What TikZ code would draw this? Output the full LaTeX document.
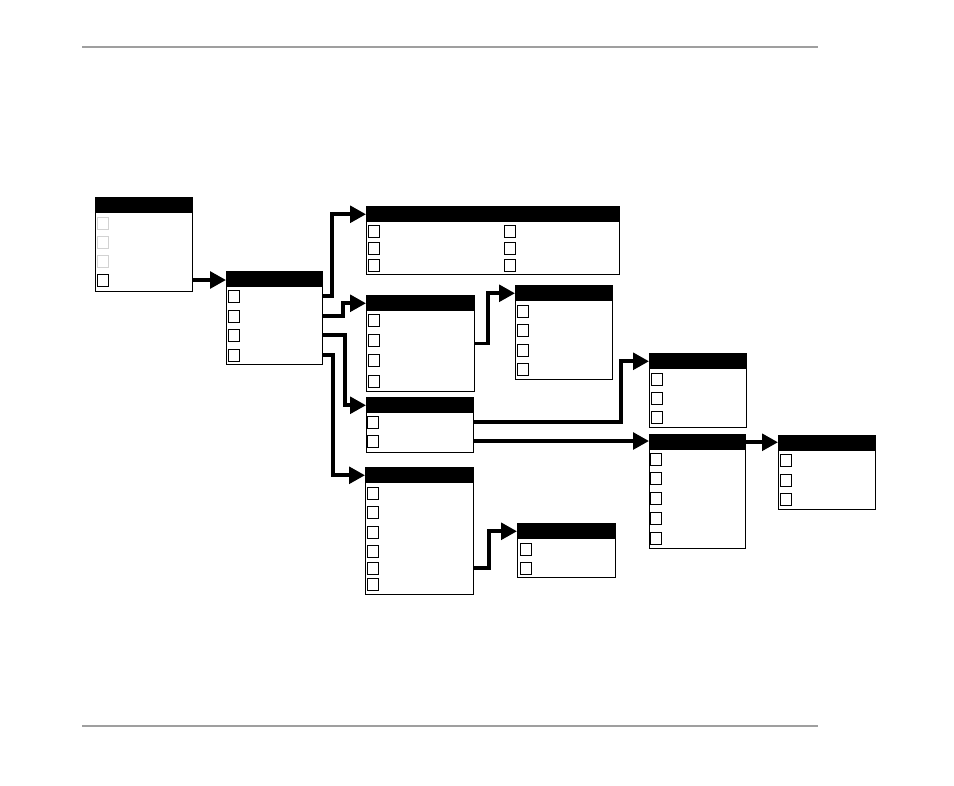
\documentclass[tikz,border=0pt]{standalone}
\usetikzlibrary{positioning, arrows.meta}

\begin{document}
\begin{tikzpicture}[
    x=0.75pt, y=-0.75pt,
    panel/.style 2 args={draw, line width=0.9pt, rectangle, anchor=north west,
                         inner sep=0pt, minimum width=#1*0.75pt, minimum height=#2*0.75pt},
    bar/.style={fill=black, rectangle, anchor=north west, inner sep=0pt,
                minimum width=#1*0.75pt, minimum height=12pt},
    tick/.style={draw, line width=0.7pt, rectangle, inner sep=0pt,
                 minimum width=8pt, minimum height=9pt},
    dim/.style={tick, draw=gray!35},
    link/.style={draw, line width=2.8pt, -{Triangle[length=12pt, width=12.5pt]}},
    rule/.style={draw=gray!75, line width=1.5pt},
  ]
\useasboundingbox (0,0) rectangle (954,786);

% page rules
\draw[rule] (82,47) -- (818,47);
\draw[rule] (82,726) -- (818,726);

% panels
\node[panel={97}{94}]  (start) at (95,197) {};
\node[panel={96}{93}]  (hub)   at (226,271) {};
\node[panel={253}{68}] (grid)  at (366,206) {};
\node[panel={108}{96}] (list)  at (366,295) {};
\node[panel={97}{94}]  (opts)  at (515,285) {};
\node[panel={107}{55}] (pair)  at (366,397) {};
\node[panel={108}{127}] (long) at (365,467) {};
\node[panel={98}{54}]  (leaf)  at (517,523) {};
\node[panel={97}{74}]  (side)  at (649,353) {};
\node[panel={96}{114}] (deep)  at (649,434) {};
\node[panel={97}{74}]  (tail)  at (778,435) {};

% title bars
\node[bar=97]  (start-h) at (start.north west) {};
\node[bar=96]  (hub-h)   at (hub.north west) {};
\node[bar=253] (grid-h)  at (grid.north west) {};
\node[bar=108] (list-h)  at (list.north west) {};
\node[bar=97]  (opts-h)  at (opts.north west) {};
\node[bar=107] (pair-h)  at (pair.north west) {};
\node[bar=108] (long-h)  at (long.north west) {};
\node[bar=98]  (leaf-h)  at (leaf.north west) {};
\node[bar=97]  (side-h)  at (side.north west) {};
\node[bar=96]  (deep-h)  at (deep.north west) {};
\node[bar=97]  (tail-h)  at (tail.north west) {};

% check boxes
\foreach \y [count=\i] in {223,242,261}
  \node[dim] (start-\i) at (103,\y) {};
\node[tick] (start-4) at (103,280) {};
\foreach \y [count=\i] in {296,316,335,355}
  \node[tick] (hub-\i) at (234,\y) {};
\foreach \y [count=\i] in {231,248,265}
  \node[tick] (grid-\i) at (374,\y) {};
\foreach \y [count=\i from 4] in {231,248,265}
  \node[tick] (grid-\i) at (510,\y) {};
\foreach \y [count=\i] in {320,340,360,381}
  \node[tick] (list-\i) at (374,\y) {};
\foreach \y [count=\i] in {311,330,350,369}
  \node[tick] (opts-\i) at (523,\y) {};
\foreach \y [count=\i] in {422,441}
  \node[tick] (pair-\i) at (373,\y) {};
\foreach \y [count=\i] in {493,512,532,551,568,584}
  \node[tick] (long-\i) at (373,\y) {};
\foreach \y [count=\i] in {549,568}
  \node[tick] (leaf-\i) at (526,\y) {};
\foreach \y [count=\i] in {379,398,417}
  \node[tick] (side-\i) at (657,\y) {};
\foreach \y [count=\i] in {459,478,498,518,538}
  \node[tick] (deep-\i) at (656,\y) {};
\foreach \y [count=\i] in {460,480,499}
  \node[tick] (tail-\i) at (786,\y) {};

% connectors
\draw[link] (start-4 -| start.east) -- (start-4 -| hub.west);
\draw[link] (hub-1 -| hub.east) -- ++(9,0) |- (grid-h.west);
\draw[link] (hub-2 -| hub.east) -- ++(20,0) |- (list-h.west);
\draw[link] (hub-3 -| hub.east) -- ++(22,0) |- (pair-h.west);
\draw[link] (hub-4 -| hub.east) -- ++(10,0) |- (long-h.west);
\draw[link] (list.east) -- ++(13,0) |- (opts-h.west);
\draw[link] (pair-1 -| pair.east) -- ++(147,0) |- (side-h.west);
\draw[link] (pair-2 -| pair.east) -- (pair-2 -| deep.west);
\draw[link] (deep-h.east) -- (deep-h.east -| tail.west);
\draw[link] (long-5 -| long.east) -- ++(15,0) |- (leaf-h.west);
\end{tikzpicture}
\end{document}
